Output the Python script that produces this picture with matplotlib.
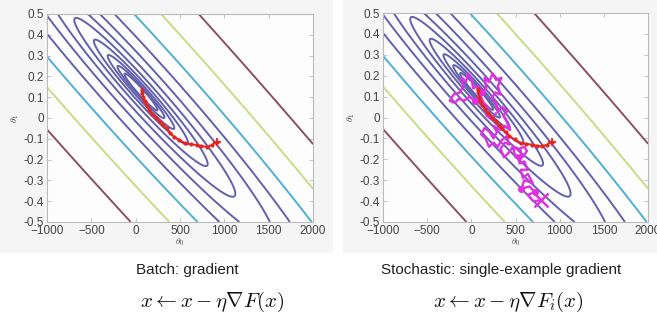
import numpy as np
import matplotlib
matplotlib.use("Agg")
import matplotlib.pyplot as plt
from matplotlib.patches import Rectangle

plt.rcParams['font.family'] = ['Liberation Sans', 'DejaVu Sans']
plt.rcParams['mathtext.fontset'] = 'cm'

# quadratic cost surface (sheared valley) and geometric contour levels
center_t0, center_t1 = 60., 0.125
valley_slope = 0.46
along_weight = 0.0127
top_level = 0.46
n_levels = 11

level_colors = ['#6361ae'] * 8 + ['#4eb0d2', '#c6de86', '#8c5060']

# batch gradient descent path
batch_t0 = [912, 860, 800, 740, 690, 620, 560, 490, 430, 390, 350, 310, 275, 230, 185, 150, 125, 100, 88, 75, 70]
batch_t1 = [-0.115, -0.13, -0.138, -0.135, -0.13, -0.126, -0.122, -0.105, -0.09, -0.07, -0.05, -0.035,
            -0.018, 0.0, 0.02, 0.04, 0.06, 0.08, 0.10, 0.12, 0.135]

# stochastic gradient descent path
sgd_t0 = [794, 700, 640, 718, 660, 567, 600, 696, 640, 583, 560, 639, 600, 548, 520, 580, 630, 600,
          540, 470, 500, 560, 560, 470, 420, 370, 330, 380, 430, 400, 340, 300, 250, 200, 160, 110,
          150, 210, 250, 290, 250, 330, 380, 440, 400, 360, 410, 350, 300, 280, 230, 270, 330, 300,
          340, 280, 240, 200, 150, 170, 120, 80, 20, 0, -40, -60, -110, -90, -130, -200, -245, -190,
          -140, -80, -20, 40, 100, 140, 190, 170, 230, 280]
sgd_t1 = [-0.396, -0.40, -0.37, -0.357, -0.33, -0.34, -0.30, -0.315, -0.27, -0.29, -0.25, -0.25, -0.21,
          -0.22, -0.18, -0.19, -0.16, -0.14, -0.15, -0.14, -0.19, -0.20, -0.16, -0.14, -0.17, -0.19,
          -0.15, -0.12, -0.13, -0.09, -0.11, -0.14, -0.12, -0.14, -0.10, -0.08, -0.05, -0.07, -0.10,
          -0.07, -0.04, -0.06, -0.04, -0.06, -0.02, 0.01, 0.03, 0.05, 0.03, 0.07, 0.09, 0.12, 0.11,
          0.15, 0.19, 0.18, 0.21, 0.17, 0.19, 0.14, 0.12, 0.15, 0.14, 0.19, 0.21, 0.17, 0.19, 0.15,
          0.12, 0.11, 0.08, 0.07, 0.09, 0.08, 0.10, 0.08, 0.11, 0.07, 0.05, 0.01, -0.01, 0.02]
sgd_dots = [3, 5, 60, 75]

x_ticks = [-1000, -500, 0, 500, 1000, 1500, 2000]
y_ticks = [-0.5, -0.4, -0.3, -0.2, -0.1, 0, 0.1, 0.2, 0.3, 0.4, 0.5]
y_labels = ['-0.5', '-0.4', '-0.3', '-0.2', '-0.1', '0', '0.1', '0.2', '0.3', '0.4', '0.5']

captions = ['Batch: gradient', 'Stochastic: single-example gradient']
formulas = [r'$x \leftarrow x - \eta \nabla F(x)$', r'$x \leftarrow x - \eta \nabla F_i(x)$']

fig = plt.figure(figsize=(6.57, 3.24), dpi=100)
fig.patch.set_facecolor('white')
fig.patches.append(Rectangle((0, 71 / 324), 333 / 657, 253 / 324, transform=fig.transFigure,
                             facecolor='#f5f5f5', edgecolor='none', zorder=-10))
fig.patches.append(Rectangle((343 / 657, 71 / 324), 314 / 657, 253 / 324, transform=fig.transFigure,
                             facecolor='#f5f5f5', edgecolor='none', zorder=-10))

g0 = np.linspace(-1000, 2000, 400)
g1 = np.linspace(-0.5, 0.5, 400)
T0, T1 = np.meshgrid(g0, g1)
q = (T0 - center_t0) / 1000.
p = (T1 - center_t1) + valley_slope * q
J = p ** 2 + along_weight * q ** 2
levels = top_level * 2.0 ** -np.arange(n_levels)[::-1]

axes_pos = [[47 / 657, 102 / 324, 266 / 657, 208 / 324],
            [383 / 657, 102 / 324, 265 / 657, 209 / 324]]

for i, pos in enumerate(axes_pos):
    ax = fig.add_axes(pos)
    ax.set_facecolor('#fdfdfd')
    ax.contour(T0, T1, J, levels=levels, colors=level_colors, linewidths=1.4)
    if i == 1:
        ax.plot(sgd_t0, sgd_t1, color='#e030e0', lw=1.7)
        ax.plot([sgd_t0[k] for k in sgd_dots], [sgd_t1[k] for k in sgd_dots],
                ls='none', marker='o', ms=4, color='#e030e0')
        ax.plot(sgd_t0[0], sgd_t1[0], marker='x', ms=10, mew=1.8, color='#e030e0')
    ax.plot(batch_t0, batch_t1, color='#e8241c', lw=1.4, marker='.', ms=4)
    ax.plot(batch_t0[0], batch_t1[0], color='#e8241c', marker='+', ms=6, mew=1.3)
    ax.set_xlim(-1000, 2000)
    ax.set_ylim(-0.5, 0.5)
    ax.set_xticks(x_ticks)
    ax.set_yticks(y_ticks)
    ax.set_yticklabels(y_labels)
    ax.tick_params(direction='in', top=True, right=True, length=3, width=0.6,
                   colors='#bbbbbb', labelcolor='#444444', labelsize=8.5, pad=2)
    for sp in ax.spines.values():
        sp.set_color('#bbbbbb')
        sp.set_linewidth(0.8)
    ax.set_xlabel(r'$\theta_0$', fontsize=7, color='#444444', labelpad=0)
    ax.set_ylabel(r'$\theta_1$', fontsize=7, color='#444444', labelpad=2)

fig.text(187 / 657, 1 - 270 / 324, captions[0], ha='center', va='center', fontsize=11, color='#222222')
fig.text(501 / 657, 1 - 270 / 324, captions[1], ha='center', va='center', fontsize=11, color='#222222')
fig.text(212 / 657, 1 - 302 / 324, formulas[0], ha='center', va='center', fontsize=15, color='#111111')
fig.text(508 / 657, 1 - 302 / 324, formulas[1], ha='center', va='center', fontsize=15, color='#111111')

fig.savefig('out.png', dpi=100)
